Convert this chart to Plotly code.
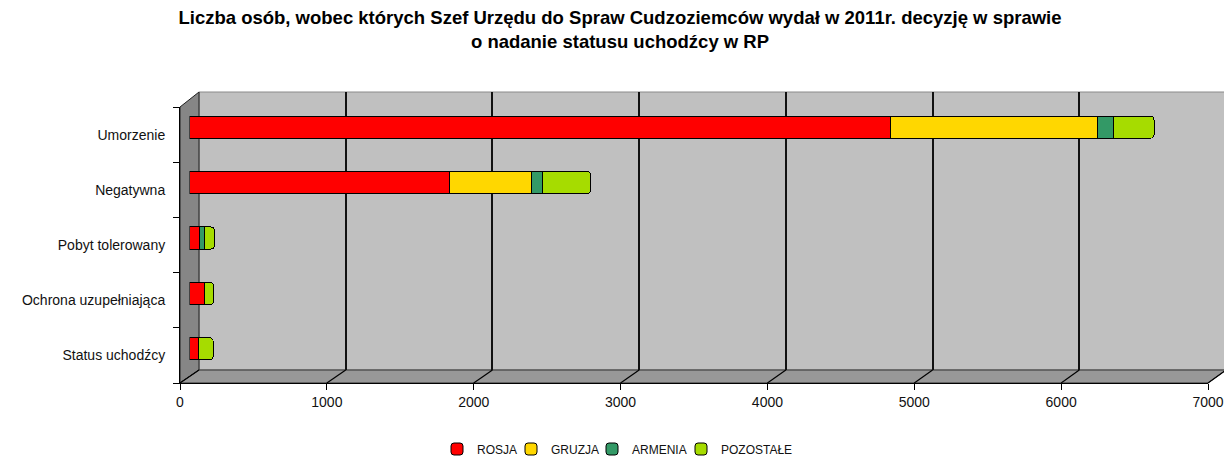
import plotly.graph_objects as go

# ---------------- data ----------------
categories = ["Umorzenie", "Negatywna", "Pobyt tolerowany", "Ochrona uzupełniająca", "Status uchodźcy"]
rosja = [4786, 1778, 65, 100, 60]
gruzja = [1413, 558, 0, 0, 0]
armenia = [107, 75, 34, 5, 0]
pozostale = [278, 328, 73, 60, 102]
series_names = ["ROSJA", "GRUZJA", "ARMENIA", "POZOSTAŁE"]
series_colors = ["#FF0000", "#FFD700", "#339966", "#A6DC00"]
x_ticks = [0, 1000, 2000, 3000, 4000, 5000, 6000, 7000]
title_text = ("Liczba osób, wobec których Szef Urzędu do Spraw Cudzoziemców wydał w 2011r. decyzję w sprawie"
              "<br>o nadanie statusu uchodźcy w RP")

W, H = 1232, 458
OFF = 8  # page body margin: figure is drawn 8px right/down of the window origin
def px(x):
    return (x - OFF) / W
def py(y):
    return 1 - (y - OFF) / H

# 3D box geometry (window pixels)
BACK_L, BACK_R, TOP, BOTTOM = 199, 1226, 92, 370
FRONT_L, FRONT_R, FRONT_TOP, FRONT_Y = 180, 1208, 107, 383
BAR_L, BAR_R, BAR_TOP, BAR_BOT = 189.5, 189.5 + 7 * 146.5, 99.5, 376.5
XMAX = 7000
LEGEND_X = [437, 511, 592, 681]   # left edges of the four legend entries (window px)
LEGEND_Y = 449

fig = go.Figure()

# grid subplot (back wall) - drawn first
fig.add_trace(go.Scatter(x=[None], y=[None], xaxis="x", yaxis="y", showlegend=False, hoverinfo="skip"))

bottom_up = categories[::-1]
legend_ids = ["legend", "legend2", "legend3", "legend4"]
for name, color, vals, lid in zip(series_names, series_colors, [rosja, gruzja, armenia, pozostale], legend_ids):
    fig.add_trace(go.Bar(
        y=categories, x=vals, name=name, orientation="h",
        marker=dict(color=color, line=dict(color="#000000", width=1)),
        width=0.4, xaxis="x2", yaxis="y2", legend=lid,
    ))

# front axes subplot
fig.add_trace(go.Scatter(x=[None] * len(categories), y=categories, xaxis="x3", yaxis="y3",
                         mode="markers", showlegend=False, hoverinfo="skip"))

shapes = []
def path(points):
    return "M " + " L ".join(f"{px(a)},{py(b)}" for a, b in points) + " Z"

# back wall
shapes.append(dict(type="path", xref="paper", yref="paper", layer="below",
                   path=path([(BACK_L, TOP), (BACK_R, TOP), (BACK_R, BOTTOM), (BACK_L, BOTTOM)]),
                   fillcolor="#C0C0C0", line=dict(color="#8A8A8A", width=1)))
# left wall
shapes.append(dict(type="path", xref="paper", yref="paper", layer="below",
                   path=path([(FRONT_L, FRONT_TOP), (BACK_L, TOP), (BACK_L, BOTTOM), (FRONT_L, FRONT_Y)]),
                   fillcolor="#868686", line=dict(color="#202020", width=1)))
# floor
shapes.append(dict(type="path", xref="paper", yref="paper", layer="below",
                   path=path([(FRONT_L, FRONT_Y), (BACK_L, BOTTOM), (BACK_R, BOTTOM), (FRONT_R, FRONT_Y)]),
                   fillcolor="#989898", line=dict(color="#303030", width=1)))
# floor diagonals
for t in x_ticks:
    xb = BACK_L + (BACK_R - BACK_L) * t / XMAX
    xf = FRONT_L + (FRONT_R - FRONT_L) * t / XMAX
    shapes.append(dict(type="line", xref="paper", yref="paper", layer="below",
                       x0=px(xb), y0=py(BOTTOM), x1=px(xf), y1=py(FRONT_Y),
                       line=dict(color="#000000", width=1.2)))
# right edge of back wall
shapes.append(dict(type="line", xref="paper", yref="paper", layer="below",
                   x0=px(BACK_R), y0=py(TOP), x1=px(BACK_R), y1=py(BOTTOM),
                   line=dict(color="#000000", width=2)))

font_family = "Liberation Sans, Arial, sans-serif"
noauto = dict(automargin=False, fixedrange=True)

legend_layouts = {}
for lid, lx in zip(legend_ids, LEGEND_X):
    legend_layouts[lid] = dict(orientation="h", x=px(lx), xanchor="left", y=py(LEGEND_Y), yanchor="middle",
                               font=dict(size=12, color="#111111"), itemwidth=30,
                               bgcolor="rgba(0,0,0,0)", borderwidth=0)

fig.update_layout(
    template="none",
    width=W, height=H, autosize=False,
    margin=dict(l=0, r=0, t=0, b=0, pad=0, autoexpand=False),
    paper_bgcolor="#FFFFFF", plot_bgcolor="rgba(0,0,0,0)",
    barmode="stack", barcornerradius=4,
    font=dict(family=font_family, color="#111111", size=13),
    title=dict(text=title_text, x=px(620), xanchor="center", y=1 - 16 / H, yanchor="top",
               automargin=False,
               font=dict(family=font_family, size=18.5, color="#000000", weight="bold")),
    shapes=shapes,
    showlegend=True,
    xaxis=dict(domain=[px(BACK_L), px(BACK_R)], range=[0, XMAX], tickvals=x_ticks,
               showgrid=True, gridcolor="#111111", gridwidth=1.6, zeroline=False,
               showticklabels=False, ticks="", showline=False, anchor="y", **noauto),
    yaxis=dict(domain=[py(BOTTOM), py(TOP)], range=[0, 1], showgrid=False, zeroline=False,
               showticklabels=False, ticks="", showline=False, anchor="x", **noauto),
    xaxis2=dict(domain=[px(BAR_L), px(BAR_R)], range=[0, XMAX], showgrid=False, zeroline=False,
                showticklabels=False, ticks="", showline=False, anchor="y2", **noauto),
    yaxis2=dict(domain=[py(BAR_BOT), py(BAR_TOP)], type="category", categoryorder="array",
                categoryarray=bottom_up, range=[-0.5, len(categories) - 0.5],
                showgrid=False, zeroline=False, showticklabels=False, ticks="", showline=False,
                anchor="x2", **noauto),
    xaxis3=dict(domain=[px(FRONT_L), px(FRONT_R)], range=[0, XMAX], tickvals=x_ticks,
                showgrid=False, zeroline=False, ticks="outside", ticklen=6, tickcolor="#000000",
                showline=True, linecolor="#000000", linewidth=1,
                tickfont=dict(size=14, color="#111111"), anchor="y3", **noauto),
    yaxis3=dict(domain=[py(FRONT_Y), py(FRONT_TOP)], type="category", categoryorder="array",
                categoryarray=bottom_up, range=[-0.5, len(categories) - 0.5],
                tickson="boundaries", ticks="outside", ticklen=6, tickcolor="#000000",
                showline=True, linecolor="#000000", linewidth=1, showgrid=False, zeroline=False,
                tickfont=dict(size=14, color="#111111"), ticklabelstandoff=11,
                anchor="x3", **noauto),
    **legend_layouts,
)

fig.write_html("out.html")
